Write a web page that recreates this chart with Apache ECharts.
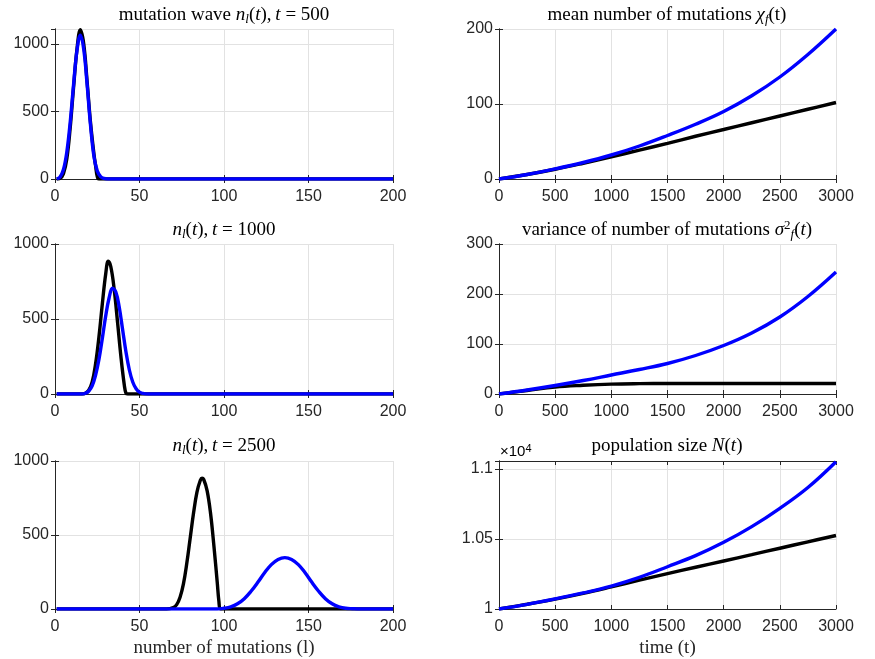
<!DOCTYPE html>
<html><head><meta charset="utf-8">
<script src="https://cdn.jsdelivr.net/npm/echarts@6/dist/echarts.min.js"></script>
<style>html,body{margin:0;padding:0;background:#fff}#c{width:875px;height:659px}</style>
</head><body><div id="c"></div>
<script>
// ---- wave at t = 500 ----
const l500Black = [1, 3, 5, 7, 9, 11, 13, 15, 17, 19, 21, 23, 24, 25, 26, 200];
const n500Black = [0, 5, 40, 150, 380, 680, 960, 1105, 1000, 720, 420, 190, 100, 20, 0, 0];
const l500Blue  = [1, 3, 5, 7, 9, 11, 13, 15, 17, 19, 21, 23, 25, 27, 29, 31, 200];
const n500Blue  = [0, 15, 70, 200, 420, 700, 950, 1065, 960, 700, 400, 170, 60, 18, 4, 0, 0];
// ---- wave at t = 1000 ----
const l1000Black = [1, 16, 18, 20, 22, 24, 26, 28, 30, 31.5, 33, 35, 37, 39, 41, 42, 43, 200];
const n1000Black = [0, 0, 5, 25, 80, 200, 380, 600, 800, 885, 850, 700, 480, 250, 60, 5, 0, 0];
const l1000Blue  = [1, 16, 18, 20, 22, 24, 26, 28, 30, 32, 34, 36, 38, 40, 42, 44, 46, 48, 50, 52, 55, 200];
const n1000Blue  = [0, 0, 5, 20, 55, 125, 230, 370, 520, 640, 705, 680, 580, 430, 280, 160, 80, 35, 12, 4, 0, 0];
// ---- wave at t = 2500 ----
const l2500Black = [1, 66, 70, 72, 74, 76, 78, 80, 82, 84, 86, 87, 88, 90, 92, 94, 96, 97, 98, 200];
const n2500Black = [0, 0, 10, 30, 80, 170, 310, 480, 650, 790, 870, 884, 875, 800, 650, 430, 180, 50, 0, 0];
const l2500Blue  = [1, 96, 100, 104, 108, 112, 116, 120, 124, 128, 132, 136, 140, 144, 148, 152, 156, 160, 164, 168, 172, 176, 180, 200];
const n2500Blue  = [0, 0, 5, 15, 35, 70, 120, 180, 245, 300, 335, 347, 335, 300, 245, 180, 120, 70, 35, 15, 5, 2, 0, 0];
// ---- time series ----
const timeT      = [0, 250, 500, 750, 1000, 1250, 1500, 1750, 2000, 2250, 2500, 2750, 3000];
const meanBlack  = [0, 6, 13, 21, 29.5, 38.5, 47.5, 57, 66, 75, 84, 93, 102];
const meanBlue   = [0, 6, 13.5, 22, 32, 44, 58, 73, 90, 111, 136, 166, 200];
const varBlack   = [0, 7, 14, 17.5, 19.8, 20.7, 21, 21, 21, 21, 21, 21, 21];
const varBlue    = [0, 8, 17, 27, 38, 49, 61, 77, 97, 122, 154, 195, 244];
const popBlack   = [10000, 10034, 10071, 10112, 10158, 10206, 10253, 10298, 10343, 10388, 10434, 10480, 10525];
const popBlue    = [10000, 10033, 10072, 10115, 10164, 10226, 10302, 10381, 10476, 10588, 10719, 10868, 11052];

const zip = (a, b) => a.map((v, i) => [v, b[i]]);
const AX = '#262626', GRID = '#e2e2e2';
const SANS = 'Liberation Sans', SERIF = 'Liberation Serif';

const grids = [
  {left: 55, top: 29, width: 338, height: 150},
  {left: 499, top: 29, width: 337, height: 150},
  {left: 55, top: 244, width: 338, height: 150},
  {left: 499, top: 244, width: 337, height: 150},
  {left: 55, top: 461, width: 338, height: 150},
  {left: 499, top: 461, width: 337, height: 150}
];
const axisSpecs = [
  {x: [0, 200, 50], y: [0, 1110, 500], hideMax: true},
  {x: [0, 3000, 500], y: [0, 200, 100]},
  {x: [0, 200, 50], y: [0, 1000, 500]},
  {x: [0, 3000, 500], y: [0, 300, 100]},
  {x: [0, 200, 50], y: [0, 1000, 500], xname: 'number of mutations (l)'},
  {x: [0, 3000, 500], y: [10000, 11057, 500], hideMax: true, xname: 'time (t)', pop: true}
];
const xAxes = [], yAxes = [];
axisSpecs.forEach((s, g) => {
  const line = {show: true, lineStyle: {color: AX, width: 1}};
  const tick = {show: true, inside: true, length: 4, lineStyle: {color: AX}};
  xAxes.push({type: 'value', gridIndex: g, min: s.x[0], max: s.x[1], interval: s.x[2], position: 'bottom',
    axisLine: line, axisTick: tick,
    axisLabel: {color: AX, fontFamily: SANS, fontSize: 16, margin: 10, formatter: v => String(v)},
    splitLine: {show: true, lineStyle: {color: GRID}},
    name: s.xname || '', nameLocation: 'middle', nameGap: 30,
    nameTextStyle: {fontFamily: SERIF, fontSize: 19, color: AX}});
  xAxes.push({type: 'value', gridIndex: g, min: s.x[0], max: s.x[1], interval: s.x[2], position: 'top',
    axisLine: line, axisTick: tick, axisLabel: {show: false}, splitLine: {show: false}});
  yAxes.push({type: 'value', gridIndex: g, min: s.y[0], max: s.y[1], interval: s.y[2], position: 'left',
    axisLine: line, axisTick: tick,
    axisLabel: {color: AX, fontFamily: SANS, fontSize: 16, margin: 6, showMaxLabel: s.hideMax ? false : null,
      formatter: s.pop ? (v => String(+(v / 10000).toFixed(2))) : (v => String(v))},
    splitLine: {show: true, lineStyle: {color: GRID}}});
  yAxes.push({type: 'value', gridIndex: g, min: s.y[0], max: s.y[1], interval: s.y[2], position: 'right',
    axisLine: line, axisTick: tick, axisLabel: {show: false}, splitLine: {show: false}});
});

function ser(g, data, color) {
  return {type: 'line', xAxisIndex: 2 * g, yAxisIndex: 2 * g, data: data, showSymbol: false,
    smooth: 0.4, lineStyle: {color: color, width: 3.4}, itemStyle: {color: color},
    silent: true, animation: false, clip: true};
}
const series = [
  ser(0, zip(l500Black, n500Black), '#000000'), ser(0, zip(l500Blue, n500Blue), '#0000ff'),
  ser(1, zip(timeT, meanBlack), '#000000'), ser(1, zip(timeT, meanBlue), '#0000ff'),
  ser(2, zip(l1000Black, n1000Black), '#000000'), ser(2, zip(l1000Blue, n1000Blue), '#0000ff'),
  ser(3, zip(timeT, varBlack), '#000000'), ser(3, zip(timeT, varBlue), '#0000ff'),
  ser(4, zip(l2500Black, n2500Black), '#000000'), ser(4, zip(l2500Blue, n2500Blue), '#0000ff'),
  ser(5, zip(timeT, popBlack), '#000000'), ser(5, zip(timeT, popBlue), '#0000ff')
];

const FS = 19;
const rich = {
  n: {fontFamily: SERIF, fontSize: FS, lineHeight: 22, color: '#000'},
  i: {fontFamily: SERIF, fontSize: FS, lineHeight: 22, fontStyle: 'italic', color: '#000'},
  sub: {fontFamily: SERIF, fontSize: 13, lineHeight: 10, fontStyle: 'italic', verticalAlign: 'bottom', color: '#000'},
  sup: {fontFamily: SERIF, fontSize: 13, lineHeight: 10, verticalAlign: 'top', color: '#000'}
};
function title(x, y, text) {
  return {type: 'text', x: x, y: y, silent: true,
    style: {text: text, rich: rich, align: 'center', verticalAlign: 'middle'}};
}
const graphics = [
  title(224, 15, '{n|mutation wave }{i|n}{sub|l}{n|(}{i|t}{n|),\u2009}{i|t}{n| = 500}'),
  title(667, 15, '{n|mean number of mutations }{i|\u03c7}{sub|f}{n|(t)}'),
  title(224, 230, '{i|n}{sub|l}{n|(}{i|t}{n|),\u2009}{i|t}{n| = 1000}'),
  title(667, 230, '{n|variance of number of mutations }{i|\u03c3}{sup|2}{sub|f}{n|(}{i|t}{n|)}'),
  title(224, 446, '{i|n}{sub|l}{n|(}{i|t}{n|),\u2009}{i|t}{n| = 2500}'),
  title(667, 446, '{n|population size }{i|N}{n|(}{i|t}{n|)}'),
  {type: 'text', x: 500, y: 452, silent: true,
    style: {text: '{a|\u00d710}{b|4}', align: 'left', verticalAlign: 'middle',
      rich: {a: {fontFamily: SANS, fontSize: 15, lineHeight: 18, color: AX},
             b: {fontFamily: SANS, fontSize: 11, lineHeight: 8, verticalAlign: 'top', color: AX}}}}
];

const chart = echarts.init(document.getElementById('c'), null, {renderer: 'canvas'});
chart.setOption({
  animation: false,
  backgroundColor: '#ffffff',
  grid: grids.map(g => Object.assign({containLabel: false}, g)),
  xAxis: xAxes, yAxis: yAxes, series: series, graphic: graphics
});
</script></body></html>
